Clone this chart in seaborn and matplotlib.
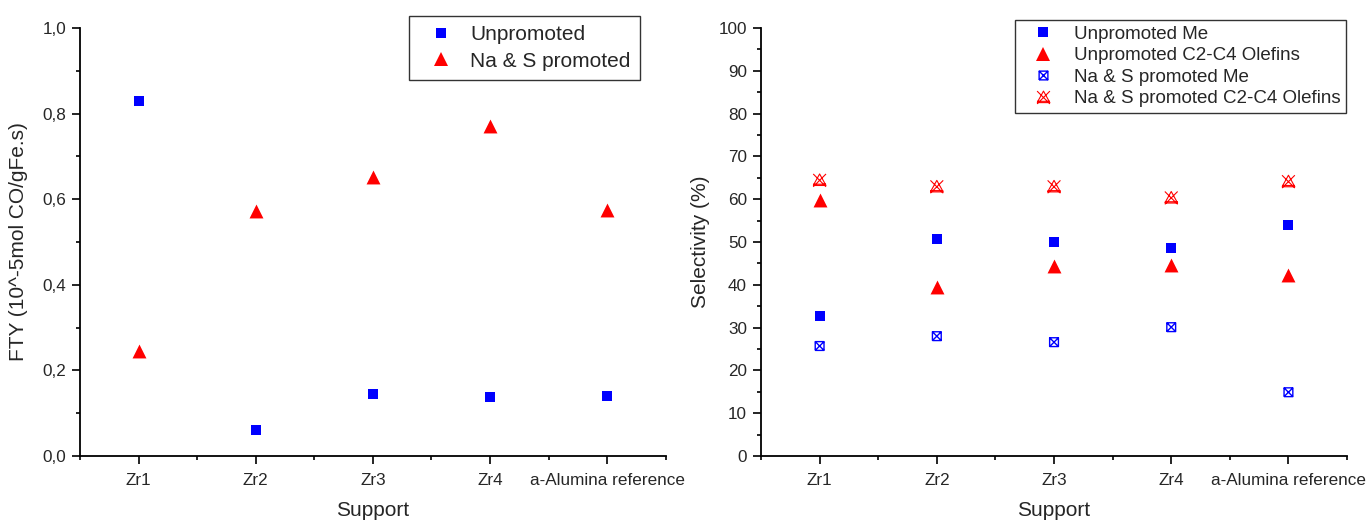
import matplotlib
matplotlib.use("Agg")
import matplotlib.pyplot as plt
from matplotlib.path import Path
from matplotlib.ticker import FixedLocator, FuncFormatter, MultipleLocator
from matplotlib.lines import Line2D
import seaborn as sns
import pandas as pd

# ---- data ----
supports = ["Zr1", "Zr2", "Zr3", "Zr4", "a-Alumina reference"]
fty_unpromoted = [0.83, 0.061, 0.145, 0.138, 0.14]
fty_promoted = [0.245, 0.572, 0.653, 0.77, 0.574]

sel_unpromoted_me = [32.6, 50.6, 50.1, 48.5, 54.0]
sel_unpromoted_olefins = [59.9, 39.5, 44.4, 44.7, 42.3]
sel_promoted_me = [25.7, 28.0, 26.6, 30.1, 14.9]
sel_promoted_olefins = [64.4, 62.9, 62.9, 60.3, 64.1]

sns.set_style("ticks")
plt.rcParams["font.family"] = ["Liberation Sans", "DejaVu Sans"]

BLUE = "#0000ff"
RED = "#ff0000"

# custom markers
sqx = Path([(-1, -1), (1, -1), (1, 1), (-1, 1), (-1, -1),
            (-1, -1), (1, 1), (-1, 1), (1, -1)],
           [Path.MOVETO, Path.LINETO, Path.LINETO, Path.LINETO, Path.LINETO,
            Path.MOVETO, Path.LINETO, Path.MOVETO, Path.LINETO])
trix = Path([(-1, -0.8), (0, 1), (1, -0.8), (-1, -0.8),
             (-1, 1), (1, -1), (-1, -1), (1, 1), (-1, -0.6), (1, -0.6)],
            [Path.MOVETO, Path.LINETO, Path.LINETO, Path.LINETO,
             Path.MOVETO, Path.LINETO, Path.MOVETO, Path.LINETO,
             Path.MOVETO, Path.LINETO])

fig = plt.figure(figsize=(13.67, 5.22), dpi=100)
ax1 = fig.add_axes([0.0585, 0.1264, 0.4285, 0.8200])
ax2 = fig.add_axes([0.5567, 0.1264, 0.4287, 0.8200])

df1 = pd.DataFrame({"Support": supports, "Unpromoted": fty_unpromoted,
                    "Promoted": fty_promoted})
df2 = pd.DataFrame({"Support": supports, "UMe": sel_unpromoted_me,
                    "UOl": sel_unpromoted_olefins, "PMe": sel_promoted_me,
                    "POl": sel_promoted_olefins})

sns.scatterplot(data=df1, x="Support", y="Unpromoted", ax=ax1, marker="s",
                color=BLUE, s=58, linewidth=0, zorder=3)
sns.scatterplot(data=df1, x="Support", y="Promoted", ax=ax1, marker="^",
                color=RED, s=100, linewidth=0, zorder=3)

sns.scatterplot(data=df2, x="Support", y="UMe", ax=ax2, marker="s",
                color=BLUE, s=58, linewidth=0, zorder=3)
sns.scatterplot(data=df2, x="Support", y="UOl", ax=ax2, marker="^",
                color=RED, s=100, linewidth=0, zorder=3)
sns.scatterplot(data=df2, x="Support", y="PMe", ax=ax2, marker=sqx,
                facecolors="none", edgecolor=BLUE, s=40, linewidth=1.0, zorder=3)
sns.scatterplot(data=df2, x="Support", y="POl", ax=ax2, marker=trix,
                facecolors="none", edgecolor=RED, s=85, linewidth=0.8, zorder=3)

for ax in (ax1, ax2):
    sns.despine(ax=ax)
    ax.set_xlim(-0.5, 4.5)
    ax.xaxis.set_minor_locator(FixedLocator([-0.5, 0.5, 1.5, 2.5, 3.5, 4.5]))
    ax.tick_params(which="major", length=6, width=1.2, labelsize=12.3,
                   color="black", pad=4)
    ax.tick_params(axis="x", which="major", pad=6)
    ax.tick_params(which="minor", length=3, width=1.2, color="black")
    for sp in ("left", "bottom"):
        ax.spines[sp].set_linewidth(1.3)
        ax.spines[sp].set_color("black")
    ax.set_xlabel("Support", fontsize=15)
    ax.xaxis.set_label_coords(0.5, -0.105)
    ax.grid(False)

ax1.set_ylim(0, 1.0)
ax1.yaxis.set_major_locator(MultipleLocator(0.2))
ax1.yaxis.set_minor_locator(MultipleLocator(0.1))
ax1.yaxis.set_major_formatter(FuncFormatter(lambda v, p: f"{v:.1f}".replace(".", ",")))
ax1.set_ylabel("FTY (10^-5mol CO/gFe.s)", fontsize=15)
ax1.yaxis.set_label_coords(-0.088, 0.5)

ax2.set_ylim(0, 100)
ax2.yaxis.set_major_locator(MultipleLocator(10))
ax2.yaxis.set_minor_locator(MultipleLocator(5))
ax2.set_ylabel("Selectivity (%)", fontsize=15)
ax2.yaxis.set_label_coords(-0.087, 0.5)

h1 = [Line2D([], [], ls="none", marker="s", color=BLUE, markersize=7.6, markeredgewidth=0),
      Line2D([], [], ls="none", marker="^", color=RED, markersize=10, markeredgewidth=0)]
leg1 = ax1.legend(h1, ["Unpromoted", "Na & S promoted"], loc="upper right",
                  bbox_to_anchor=(0.956, 1.028), borderaxespad=0, fontsize=15,
                  frameon=True, fancybox=False, edgecolor="black",
                  handletextpad=0.3, borderpad=0.45, labelspacing=0.35,
                  handlelength=2.2)
leg1.get_frame().set_linewidth(1.0)

h2 = [Line2D([], [], ls="none", marker="s", color=BLUE, markersize=7.6, markeredgewidth=0),
      Line2D([], [], ls="none", marker="^", color=RED, markersize=10, markeredgewidth=0),
      Line2D([], [], ls="none", marker=sqx, markerfacecolor="none",
             markeredgecolor=BLUE, markersize=6.3, markeredgewidth=1.0),
      Line2D([], [], ls="none", marker=trix, markerfacecolor="none",
             markeredgecolor=RED, markersize=9.2, markeredgewidth=0.8)]
leg2 = ax2.legend(h2, ["Unpromoted Me", "Unpromoted C2-C4 Olefins",
                       "Na & S promoted Me", "Na & S promoted C2-C4 Olefins"],
                  loc="upper right", bbox_to_anchor=(0.998, 1.019),
                  borderaxespad=0, fontsize=13.5, frameon=True, fancybox=False,
                  edgecolor="black", handletextpad=0.48, borderpad=0.3,
                  labelspacing=0.24, handlelength=2.35)
leg2.get_frame().set_linewidth(1.0)

fig.savefig("out.png", dpi=100)
